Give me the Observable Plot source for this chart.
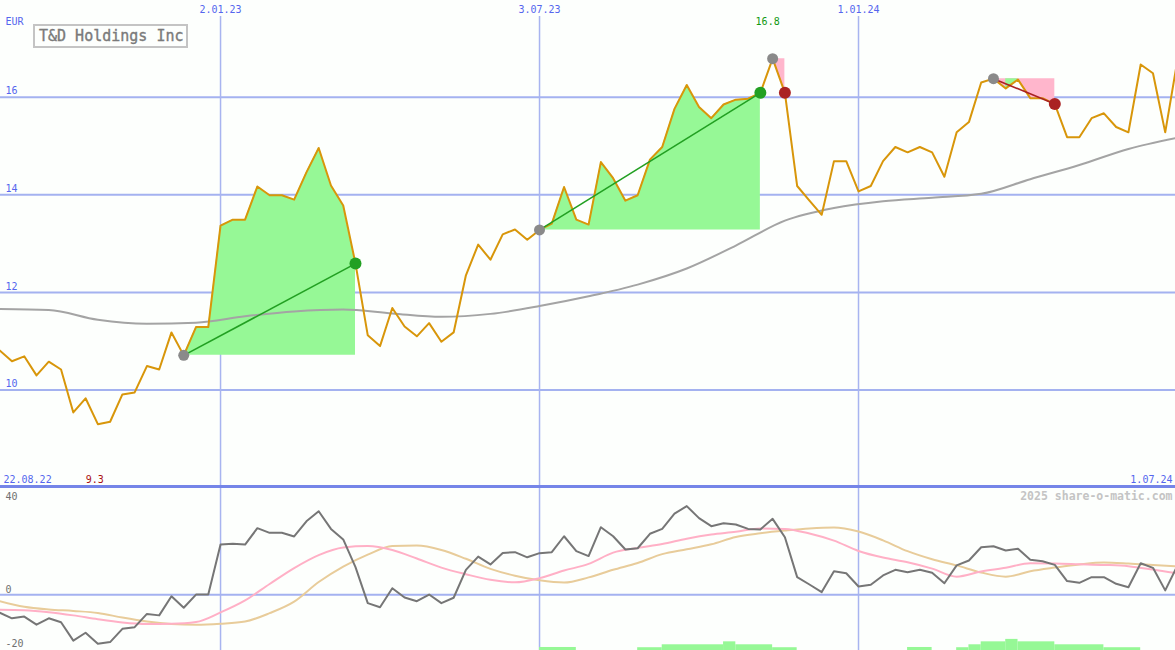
<!DOCTYPE html>
<html><head><meta charset="utf-8">
<script src="https://cdn.jsdelivr.net/npm/d3@7"></script>
<script src="https://cdn.jsdelivr.net/npm/@observablehq/plot@0.6"></script>
<style>
html,body{margin:0;padding:0;background:#fdfffd;}
#wrap{position:relative;width:1175px;height:650px;overflow:hidden;background:#fdfffd;font-family:"DejaVu Sans Mono",monospace;}
#topPanel,#botPanel{position:absolute;left:0;}
#topPanel{top:0;}
#botPanel{top:487px;}
#sep{position:absolute;left:0;top:485px;width:1175px;height:3px;background:#7585e8;}
#title{position:absolute;left:33px;top:24px;width:147px;height:20px;border:2px solid #c4c4c4;color:#7a7a7a;font-size:15px;line-height:21px;padding-left:4px;white-space:nowrap;overflow:hidden;font-family:"DejaVu Sans Mono",monospace;-webkit-text-stroke:0.35px #7a7a7a;}
svg{display:block;}
</style>
</head><body>
<div id="wrap">
  <div id="topPanel"></div>
  <div id="botPanel"></div>
  <div id="sep"></div>
  <div id="title">T&amp;D Holdings Inc</div>
</div>
<script>
// ---------- data ----------
const startDate = new Date(Date.UTC(2022, 7, 29));
const endDate = new Date(Date.UTC(2024, 6, 1));
const dates = d3.utcMonday.range(startDate, new Date(Date.UTC(2024, 6, 2))); // weekly

const price = [10.81,10.59,10.69,10.30,10.58,10.42,9.54,9.83,9.30,9.35,
 9.91,9.95,10.49,10.42,11.18,10.71,11.29,11.29,13.37,13.49,
 13.49,14.17,13.99,13.99,13.90,14.46,14.96,14.19,13.78,12.59,
 11.12,10.90,11.68,11.30,11.10,11.37,10.99,11.18,12.35,12.98,
 12.67,13.19,13.29,13.08,13.28,13.41,14.16,13.49,13.39,14.67,
 14.34,13.88,13.99,14.72,14.98,15.76,16.25,15.80,15.57,15.85,
 15.95,15.97,16.09,16.79,16.09,14.18,13.88,13.59,14.69,14.69,
 14.07,14.18,14.69,14.98,14.87,14.98,14.87,14.37,15.28,15.49,
 16.30,16.38,16.18,16.36,15.98,15.98,15.86,15.18,15.18,15.57,
 15.67,15.39,15.28,16.67,16.49,15.28,16.77];

// moving average, read every 4 weeks
const maStep = 4;
const maValues = [11.66,11.64,11.44,11.36,11.38,11.51,11.61,11.65,11.57,11.50,11.56,11.72,11.92,12.16,12.49,12.96,13.47,13.73,13.87,13.94,14.02,14.32,14.61,14.94,15.17];

// indicator panel
const oscValues = [-7.3,-9.6,-8.9,-12.2,-9.6,-11.2,-18.7,-15.5,-20.0,-19.3,
 -13.9,-13.2,-7.8,-8.4,-0.6,-5.3,0.1,0.1,20.5,20.8,
 20.5,27.2,25.3,25.3,23.8,30.0,34.1,26.9,22.6,11.3,
 -3.4,-5.1,2.7,-1.1,-2.6,0.1,-3.4,-1.2,10.2,15.6,
 12.4,17.1,17.4,15.3,17.0,17.4,23.9,17.8,15.8,27.6,
 23.9,18.5,19.0,24.9,26.9,33.1,36.2,31.3,28.0,29.2,
 28.7,26.9,26.7,31.0,23.5,7.2,4.2,1.1,9.6,8.8,
 3.4,4.1,7.9,10.2,9.2,10.2,9.0,4.7,12.0,14.0,
 19.4,19.8,18.1,18.8,14.3,13.7,12.2,5.6,4.9,7.2,
 7.2,4.5,3.1,12.9,11.0,1.8,12.0];
// smoothed lines, read every 2 weeks
const smoothStep = 2;
const fastValues = [-6.1,-6.3,-7.1,-8.4,-10.0,-11.3,-11.9,-11.8,-11.1,-7.2,
 -2.3,4.4,10.9,16.2,19.3,19.9,18.3,14.8,11.1,8.4,
 6.1,5.1,6.8,9.9,12.6,17.2,19.1,20.7,22.9,24.6,
 25.7,27.1,26.9,25.0,22.1,17.9,15.2,13.3,10.7,7.4,
 9.5,11.0,12.9,12.8,12.5,12.2,11.7,10.3,8.7];
const slowValues = [-2.6,-4.9,-6.0,-6.6,-7.4,-9.3,-10.9,-11.9,-12.2,-11.8,
 -10.9,-7.5,-2.8,5.2,11.5,16.4,19.9,20.1,18.3,14.7,
 10.6,7.8,5.9,5.0,7.1,10.2,13.0,16.6,18.6,20.6,
 23.6,25.1,26.2,27.1,27.5,25.8,22.2,17.8,14.5,12.0,
 9.1,7.4,9.6,11.1,12.4,13.2,12.8,12.2,11.6];

// histogram bars (week index from, to, height)
const barFrom = [44,52,54,59,60,63,74,78,79,80,82,83,86,90];
const barTo   = [47,54,59,60,63,65,76,79,80,82,83,86,90,93];
const barHeight = [1.3,1.2,2.4,3.6,2.4,1.2,1.3,1.2,2.4,3.6,4.6,3.6,2.4,1.2];

// trades (week indices)
const tradeEntry = [15,44,63,81];
const tradeExit  = [29,62,64,86];
const tradeWin   = [true,true,false,false];
const tradeLine  = [true,true,false,true];
const greenSpan  = [82,83];

// ticks / labels
const tickDates = [new Date(Date.UTC(2023,0,2)), new Date(Date.UTC(2023,6,3)), new Date(Date.UTC(2024,0,1))];
const tickLabels = ["2.01.23","3.07.23","1.01.24"];
const priceTicks = [10,12,14,16];
const oscTicks = [40,-20];
const startLabel = "22.08.22";
const endLabel = "1.07.24";
const highIdx = 63, highLabel = "16.8";
const lowIdx = 8, lowLabel = "9.3";

// ---------- styling ----------
const BLUE = "#5566ee", GRID = "#a4b2f0", VGRID = "#a8b4f0";
const PRICE = "#d8960a", MA = "#a4a4a4";
const GREEN_FILL = "#96f896", PINK_FILL = "#ffb6cc";
const GREEN_DOT = "#22a022", RED_DOT = "#aa2222", GRAY_DOT = "#8a8a8a";
const font = {fontFamily: "DejaVu Sans Mono, monospace", fontSize: "10px", background: "transparent", overflow: "visible"};
const T = {lineAnchor: "middle"};

const xScale = {type: "utc", domain: [startDate, endDate], range: [-0.8, 1177]};

const P = dates.map((d, i) => ({date: d, price: price[i], osc: oscValues[i]}));
const MAD = maValues.map((v, k) => ({date: dates[k * maStep], v}));
const FAST = fastValues.map((v, k) => ({date: dates[k * smoothStep], v}));
const SLOW = slowValues.map((v, k) => ({date: dates[k * smoothStep], v}));

const areaMarks = tradeEntry.map((e, t) => {
  const seg = d3.range(e, tradeExit[t] + 1).map(i => ({date: dates[i], base: price[e], price: price[i]}));
  return Plot.areaY(seg, {x: "date", y1: "base", y2: "price", fill: tradeWin[t] ? GREEN_FILL : PINK_FILL, clip: true});
});
const greenSeg = d3.range(greenSpan[0], greenSpan[1] + 1).map(i => ({date: dates[i], base: price[tradeEntry[3]], price: price[i]}));

const links = tradeEntry.map((e, t) => ({x1: dates[e], y1: price[e], x2: dates[tradeExit[t]], y2: price[tradeExit[t]], win: tradeWin[t], show: tradeLine[t]})).filter(d => d.show);
const entries = tradeEntry.map(e => ({date: dates[e], price: price[e]}));
const exits = tradeExit.map((x, t) => ({date: dates[x], price: price[x], win: tradeWin[t]}));

const topPlot = Plot.plot({
  width: 1175, height: 487,
  marginTop: 0, marginRight: 0, marginBottom: 0, marginLeft: 0,
  style: font,
  x: {...xScale, axis: null},
  y: {domain: [10, 16], range: [389.5, 96.7], axis: null},
  marks: [
    Plot.ruleY(priceTicks, {stroke: GRID, strokeWidth: 2}),
    Plot.ruleX(tickDates, {stroke: VGRID, strokeWidth: 1.5, insetTop: 16}),
    ...areaMarks,
    Plot.areaY(greenSeg, {x: "date", y1: "base", y2: "price", fill: GREEN_FILL}),
    Plot.line(MAD, {x: "date", y: "v", stroke: MA, strokeWidth: 2, curve: "monotone-x", clip: true}),
    Plot.line(P, {x: "date", y: "price", stroke: PRICE, strokeWidth: 2, clip: true}),
    Plot.link(links, {x1: "x1", y1: "y1", x2: "x2", y2: "y2", stroke: d => d.win ? GREEN_DOT : RED_DOT, strokeWidth: 1.6}),
    Plot.dot(entries, {x: "date", y: "price", r: 5.5, fill: GRAY_DOT}),
    Plot.dot(exits, {x: "date", y: "price", r: 6, fill: d => d.win ? GREEN_DOT : RED_DOT}),
    Plot.text(priceTicks, {...T, y: d => d, text: d => String(d), frameAnchor: "left", textAnchor: "start", dx: 5, dy: -6, fill: BLUE}),
    Plot.text(["EUR"], {...T, text: d => d, frameAnchor: "top-left", textAnchor: "start", dx: 5, dy: 21, fill: BLUE}),
    Plot.text(tickDates, {...T, x: d => d, text: (d, i) => tickLabels[i], frameAnchor: "top", dy: 9, fill: BLUE}),
    Plot.text([highLabel], {...T, x: () => dates[highIdx], text: d => d, frameAnchor: "top", dy: 21, dx: -5, fill: "#119911"}),
    Plot.text([lowLabel], {...T, x: () => dates[lowIdx], text: d => d, frameAnchor: "bottom", dy: -8, dx: -3, fill: "#aa1111"}),
    Plot.text([startLabel], {...T, text: d => d, frameAnchor: "bottom-left", textAnchor: "start", dx: 3, dy: -8, fill: BLUE}),
    Plot.text([endLabel], {...T, text: d => d, frameAnchor: "bottom-right", textAnchor: "end", dx: -3, dy: -8, fill: BLUE})
  ]
});
document.getElementById("topPanel").appendChild(topPlot);

const bars = barFrom.map((f, k) => ({x1: dates[f], x2: dates[barTo[k]], h: barHeight[k]}));
const BASE = -22.8;

const botPlot = Plot.plot({
  width: 1175, height: 163,
  marginTop: 0, marginRight: 0, marginBottom: 0, marginLeft: 0,
  style: font,
  x: {...xScale, axis: null},
  y: {domain: [-20, 40], range: [156.3, 9.3], axis: null},
  marks: [
    Plot.ruleX(tickDates, {stroke: VGRID, strokeWidth: 1.5}),
    Plot.ruleY([0], {stroke: GRID, strokeWidth: 2}),
    Plot.rectY(bars, {x1: "x1", x2: "x2", y1: BASE, y2: d => BASE + d.h, fill: GREEN_FILL, clip: true}),
    Plot.line(SLOW, {x: "date", y: "v", stroke: "#e8cc9a", strokeWidth: 2, curve: "monotone-x", clip: true}),
    Plot.line(FAST, {x: "date", y: "v", stroke: "#ffb0c6", strokeWidth: 2, curve: "monotone-x", clip: true}),
    Plot.line(P, {x: "date", y: "osc", stroke: "#767676", strokeWidth: 2, clip: true}),
    Plot.text(oscTicks, {...T, y: d => d, text: d => String(d), frameAnchor: "left", textAnchor: "start", dx: 5, fill: "#707070"}),
    Plot.text([0], {...T, y: d => d, text: d => String(d), frameAnchor: "left", textAnchor: "start", dx: 5, dy: -5, fill: "#707070"}),
    Plot.text(["2025 share-o-matic.com"], {...T, text: d => d, frameAnchor: "top-right", textAnchor: "end", dx: -3, dy: 9, fill: "#c4c4c4", fontWeight: "bold", fontSize: 11.5})
  ]
});
document.getElementById("botPanel").appendChild(botPlot);
</script>
</body></html>
